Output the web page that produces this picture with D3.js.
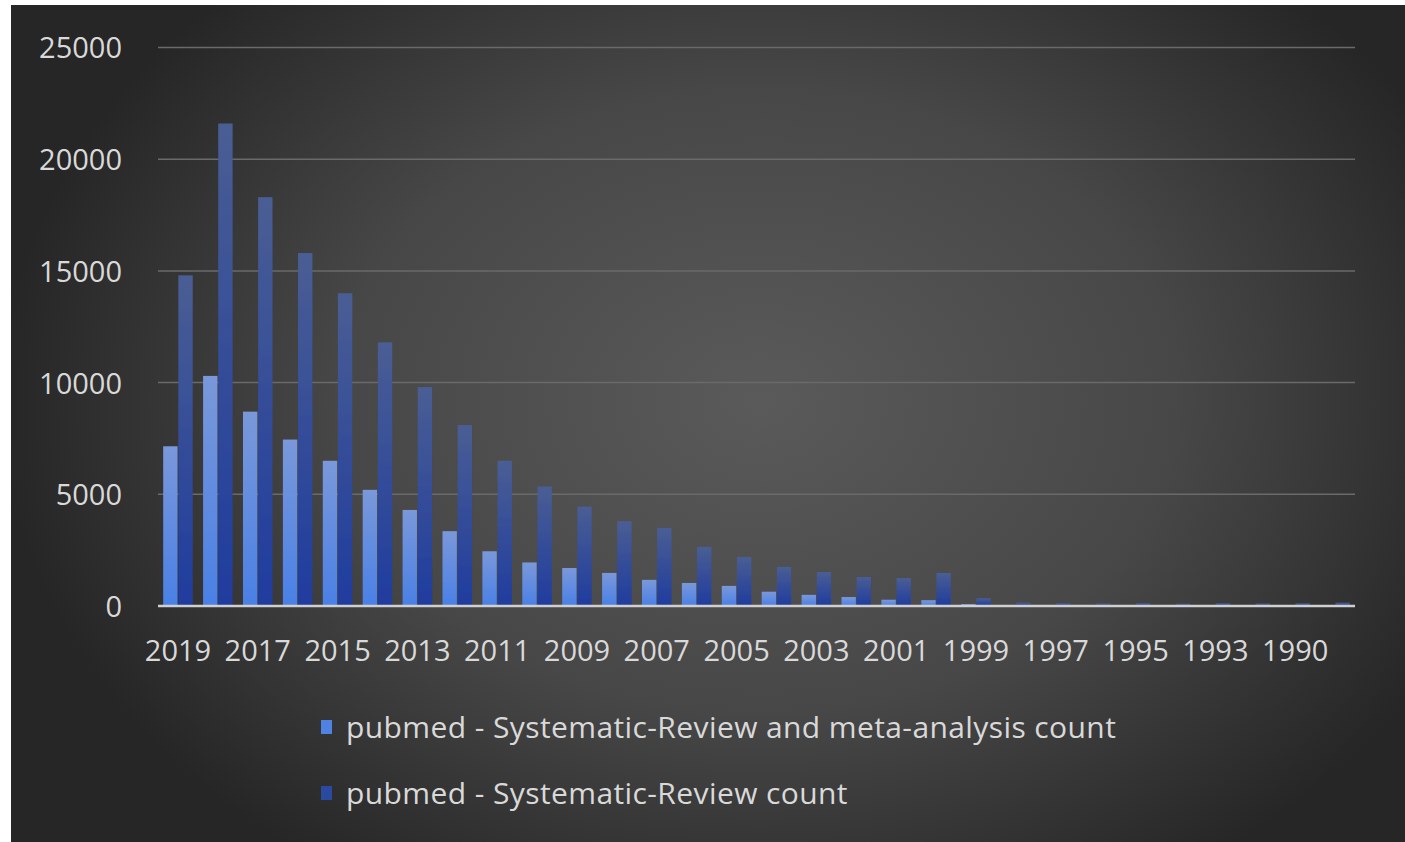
<!DOCTYPE html>
<html>
<head>
<meta charset="utf-8">
<script src="https://cdn.jsdelivr.net/npm/d3@7"></script>
<style>
  html, body { margin: 0; padding: 0; background: #ffffff; }
  svg { display: block; }
</style>
</head>
<body>
<svg id="chart" width="1405" height="842"></svg>
<script>
// values
var years = ["2019","2018","2017","2016","2015","2014","2013","2012","2011","2010",
             "2009","2008","2007","2006","2005","2004","2003","2002","2001","2000",
             "1999","1998","1997","1996","1995","1994","1993","1992","1990","1989"];

var metaCount = [7150, 10300, 8700, 7450, 6500, 5200, 4300, 3350, 2450, 1950,
                 1700, 1480, 1170, 1030, 900, 640, 500, 400, 280, 260,
                 90, 40, 30, 30, 25, 20, 20, 15, 15, 20];

var reviewCount = [14800, 21600, 18300, 15800, 14000, 11800, 9800, 8100, 6500, 5350,
                   4450, 3800, 3500, 2650, 2200, 1750, 1520, 1300, 1250, 1480,
                   350, 150, 120, 110, 120, 100, 120, 110, 120, 150];

var seriesNames = ["pubmed - Systematic-Review and meta-analysis count",
                   "pubmed - Systematic-Review count"];

var yTicks = [0, 5000, 10000, 15000, 20000, 25000];

var rows = years.map(function(y, i) {
  return { year: y, vals: [metaCount[i], reviewCount[i]] };
});

var svg = d3.select("#chart");
var W = 1405, H = 842;
var plot = { left: 158, right: 1355, top: 47.5, bottom: 606 };

var defs = svg.append("defs");

// background radial gradient
var bg = defs.append("radialGradient")
  .attr("id", "bgGrad")
  .attr("gradientUnits", "userSpaceOnUse")
  .attr("cx", 760).attr("cy", 400).attr("r", 760)
  .attr("gradientTransform", "translate(760,400) scale(1,0.75) translate(-760,-400)");
bg.append("stop").attr("offset", "0%").attr("stop-color", "#5a5a5a");
bg.append("stop").attr("offset", "55%").attr("stop-color", "#474747");
bg.append("stop").attr("offset", "100%").attr("stop-color", "#262626");

// bar gradients
var g0 = defs.append("linearGradient").attr("id", "barLight")
  .attr("x1", 0).attr("y1", 0).attr("x2", 0).attr("y2", 1);
g0.append("stop").attr("offset", "0%").attr("stop-color", "#7a98da");
g0.append("stop").attr("offset", "100%").attr("stop-color", "#4a80e6");

var g1 = defs.append("linearGradient").attr("id", "barDark")
  .attr("x1", 0).attr("y1", 0).attr("x2", 0).attr("y2", 1);
g1.append("stop").attr("offset", "0%").attr("stop-color", "#4a5e94");
g1.append("stop").attr("offset", "100%").attr("stop-color", "#1f3c9e");

var soft = defs.append("filter").attr("id", "soft")
  .attr("x", "-20%").attr("y", "-5%").attr("width", "140%").attr("height", "110%");
soft.append("feGaussianBlur").attr("stdDeviation", 0.7);

svg.append("rect")
  .attr("x", 11).attr("y", 5)
  .attr("width", W - 11).attr("height", H - 5)
  .attr("fill", "url(#bgGrad)");

var x0 = d3.scaleBand()
  .domain(years)
  .range([plot.left, plot.right])
  .paddingInner(0.26)
  .paddingOuter(0.13);

var x1 = d3.scaleBand()
  .domain([0, 1])
  .range([0, x0.bandwidth()])
  .paddingInner(0.05);

var y = d3.scaleLinear()
  .domain([0, 25000])
  .range([plot.bottom, plot.top]);

var txtColor = "#d9d9d9";
var font = "'Open Sans', 'DejaVu Sans', sans-serif";

// grid lines
svg.append("g").attr("class", "grid")
  .selectAll("line")
  .data(yTicks.slice(1))
  .enter().append("line")
  .attr("x1", plot.left).attr("x2", plot.right)
  .attr("y1", function(d) { return y(d); })
  .attr("y2", function(d) { return y(d); })
  .attr("stroke", "#6a6a6a")
  .attr("stroke-width", 1.5);

// y axis labels
var yAxis = svg.append("g")
  .attr("transform", "translate(" + (plot.left - 36) + ",0)")
  .call(d3.axisLeft(y).tickValues(yTicks).tickSize(0).tickPadding(0).tickFormat(d3.format("d")));
yAxis.select(".domain").remove();
yAxis.selectAll("text")
  .attr("fill", txtColor)
  .attr("font-family", font)
  .attr("font-size", 29)
  .attr("dy", "0.36em");

// bars
var groups = svg.append("g").attr("filter", "url(#soft)")
  .selectAll("g.yr")
  .data(rows)
  .enter().append("g")
  .attr("class", "yr")
  .attr("transform", function(d) { return "translate(" + x0(d.year) + ",0)"; });

groups.selectAll("rect")
  .data(function(d) { return d.vals.map(function(v, i) { return { i: i, v: v }; }); })
  .enter().append("rect")
  .attr("x", function(d) { return x1(d.i); })
  .attr("width", x1.bandwidth())
  .attr("y", function(d) { return y(d.v); })
  .attr("height", function(d) { return y(0) - y(d.v); })
  .attr("fill", function(d) { return d.i === 0 ? "url(#barLight)" : "url(#barDark)"; });

// baseline
svg.append("line")
  .attr("x1", plot.left).attr("x2", plot.right)
  .attr("y1", y(0)).attr("y2", y(0))
  .attr("stroke", "#d0d0d0")
  .attr("stroke-width", 2.5);

// x axis labels, every other year
var xAxis = svg.append("g")
  .attr("transform", "translate(0," + (y(0) + 29) + ")")
  .call(d3.axisBottom(x0)
    .tickValues(years.filter(function(d, i) { return i % 2 === 0; }))
    .tickSize(0).tickPadding(0));
xAxis.select(".domain").remove();
xAxis.selectAll("text")
  .attr("fill", txtColor)
  .attr("font-family", font)
  .attr("font-size", 29)
  .attr("dy", "0.9em");

// legend
var legend = svg.append("g").attr("class", "legend")
  .selectAll("g")
  .data(seriesNames)
  .enter().append("g")
  .attr("transform", function(d, i) { return "translate(321," + (727 + i * 66) + ")"; });

legend.append("rect")
  .attr("x", 0).attr("y", -7)
  .attr("width", 11).attr("height", 14)
  .attr("fill", function(d, i) { return i === 0 ? "#4f82e2" : "#2a4aa0"; });

legend.append("text")
  .attr("x", 25).attr("y", 0)
  .attr("dy", "0.35em")
  .attr("fill", txtColor)
  .attr("font-family", font)
  .attr("font-size", 30)
  .attr("letter-spacing", 0.4)
  .text(function(d) { return d; });
</script>
</body>
</html>
